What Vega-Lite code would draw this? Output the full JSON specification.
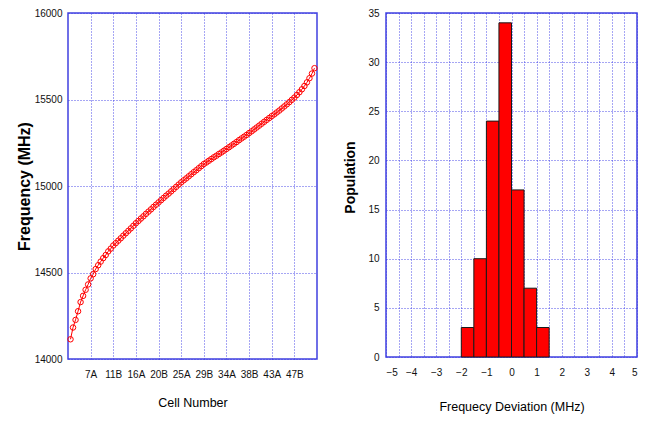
{
  "$schema": "https://vega.github.io/schema/vega-lite/v6.json",
  "background": "white",
  "padding": {"left": 15, "top": 7, "right": 5, "bottom": 5},
  "spacing": 23,
  "datasets": {
    "cells": [
      {"n": 4, "freq": 14114}, {"n": 5, "freq": 14182}, {"n": 6, "freq": 14226}, {"n": 7, "freq": 14276},
      {"n": 8, "freq": 14329}, {"n": 9, "freq": 14365}, {"n": 10, "freq": 14400}, {"n": 11, "freq": 14431},
      {"n": 12, "freq": 14466}, {"n": 13, "freq": 14490}, {"n": 14, "freq": 14520}, {"n": 15, "freq": 14542},
      {"n": 16, "freq": 14563}, {"n": 17, "freq": 14583}, {"n": 18, "freq": 14601}, {"n": 19, "freq": 14622},
      {"n": 20, "freq": 14638}, {"n": 21, "freq": 14656}, {"n": 22, "freq": 14670}, {"n": 23, "freq": 14684},
      {"n": 24, "freq": 14698}, {"n": 25, "freq": 14713}, {"n": 26, "freq": 14727}, {"n": 27, "freq": 14741},
      {"n": 28, "freq": 14755}, {"n": 29, "freq": 14770}, {"n": 30, "freq": 14785}, {"n": 31, "freq": 14798},
      {"n": 32, "freq": 14812}, {"n": 33, "freq": 14825}, {"n": 34, "freq": 14839}, {"n": 35, "freq": 14852},
      {"n": 36, "freq": 14865}, {"n": 37, "freq": 14879}, {"n": 38, "freq": 14892}, {"n": 39, "freq": 14905},
      {"n": 40, "freq": 14918}, {"n": 41, "freq": 14931}, {"n": 42, "freq": 14944}, {"n": 43, "freq": 14956},
      {"n": 44, "freq": 14969}, {"n": 45, "freq": 14982}, {"n": 46, "freq": 14995}, {"n": 47, "freq": 15008},
      {"n": 48, "freq": 15021}, {"n": 49, "freq": 15033}, {"n": 50, "freq": 15044}, {"n": 51, "freq": 15056},
      {"n": 52, "freq": 15068}, {"n": 53, "freq": 15080}, {"n": 54, "freq": 15091}, {"n": 55, "freq": 15103},
      {"n": 56, "freq": 15115}, {"n": 57, "freq": 15127}, {"n": 58, "freq": 15136}, {"n": 59, "freq": 15146},
      {"n": 60, "freq": 15156}, {"n": 61, "freq": 15166}, {"n": 62, "freq": 15175}, {"n": 63, "freq": 15185},
      {"n": 64, "freq": 15194}, {"n": 65, "freq": 15204}, {"n": 66, "freq": 15214}, {"n": 67, "freq": 15224},
      {"n": 68, "freq": 15234}, {"n": 69, "freq": 15244}, {"n": 70, "freq": 15254}, {"n": 71, "freq": 15265},
      {"n": 72, "freq": 15275}, {"n": 73, "freq": 15285}, {"n": 74, "freq": 15295}, {"n": 75, "freq": 15306},
      {"n": 76, "freq": 15316}, {"n": 77, "freq": 15327}, {"n": 78, "freq": 15338}, {"n": 79, "freq": 15349},
      {"n": 80, "freq": 15360}, {"n": 81, "freq": 15371}, {"n": 82, "freq": 15382}, {"n": 83, "freq": 15393},
      {"n": 84, "freq": 15404}, {"n": 85, "freq": 15414}, {"n": 86, "freq": 15425}, {"n": 87, "freq": 15436},
      {"n": 88, "freq": 15448}, {"n": 89, "freq": 15460}, {"n": 90, "freq": 15472}, {"n": 91, "freq": 15485},
      {"n": 92, "freq": 15498}, {"n": 93, "freq": 15511}, {"n": 94, "freq": 15526}, {"n": 95, "freq": 15542},
      {"n": 96, "freq": 15559}, {"n": 97, "freq": 15578}, {"n": 98, "freq": 15599}, {"n": 99, "freq": 15623},
      {"n": 100, "freq": 15650}, {"n": 101, "freq": 15681}
    ],
    "hist": [
      {"lo": -2.0, "hi": -1.5, "count": 3},
      {"lo": -1.5, "hi": -1.0, "count": 10},
      {"lo": -1.0, "hi": -0.5, "count": 24},
      {"lo": -0.5, "hi": 0.0, "count": 34},
      {"lo": 0.0, "hi": 0.5, "count": 17},
      {"lo": 0.5, "hi": 1.0, "count": 7},
      {"lo": 1.0, "hi": 1.5, "count": 3}
    ]
  },
  "config": {
    "view": {"stroke": "#4040e0", "strokeWidth": 1.5},
    "axis": {
      "labelFont": "Liberation Sans",
      "labelFontSize": 10,
      "labelColor": "#111",
      "titleFont": "Liberation Sans",
      "titleFontSize": 12.5,
      "titleFontWeight": "normal",
      "titleColor": "#000",
      "ticks": false,
      "domain": false,
      "gridColor": "#3a3ae8",
      "gridDash": [1, 2],
      "gridWidth": 1,
      "gridOpacity": 0.9
    }
  },
  "hconcat": [
    {
      "width": 249,
      "height": 346,
      "data": {"name": "cells"},
      "mark": {
        "type": "line",
        "color": "#ff0000",
        "strokeWidth": 1,
        "point": {"filled": false, "size": 30, "stroke": "#ff0000", "strokeWidth": 1}
      },
      "encoding": {
        "x": {
          "field": "n", "type": "quantitative",
          "scale": {"domain": [3, 102], "nice": false, "zero": false},
          "axis": {
            "title": "Cell Number",
            "values": [12, 21, 30, 39, 48, 57, 66, 75, 84, 93],
            "labelExpr": "(floor(datum.value / 2) + 1) + (datum.value % 2 == 0 ? 'A' : 'B')",
            "labelPadding": 10,
            "titlePadding": 17
          }
        },
        "y": {
          "field": "freq", "type": "quantitative",
          "scale": {"domain": [14000, 16000], "nice": false, "zero": false},
          "axis": {
            "title": "Frequency (MHz)",
            "values": [14000, 14500, 15000, 15500, 16000],
            "format": "d",
            "labelPadding": 6,
            "titlePadding": 2,
            "titleFontWeight": "bold",
            "titleFontSize": 16
          }
        }
      }
    },
    {
      "width": 251,
      "height": 344,
      "data": {"name": "hist"},
      "mark": {"type": "bar", "color": "#ff0000", "stroke": "#1a1a1a", "strokeWidth": 1},
      "encoding": {
        "x": {
          "field": "lo", "type": "quantitative",
          "scale": {"domain": [-5, 5], "nice": false, "zero": false},
          "axis": {
            "title": "Frequecy Deviation (MHz)",
            "values": [-5, -4.5, -4, -3.5, -3, -2.5, -2, -1.5, -1, -0.5, 0, 0.5, 1, 1.5, 2, 2.5, 3, 3.5, 4, 4.5, 5],
            "labelExpr": "datum.value % 1 == 0 ? format(datum.value, 'd') : ''",
            "labelPadding": 10,
            "titlePadding": 23
          }
        },
        "x2": {"field": "hi"},
        "y": {
          "field": "count", "type": "quantitative",
          "scale": {"domain": [0, 35], "nice": false},
          "axis": {
            "title": "Population",
            "values": [0, 5, 10, 15, 20, 25, 30, 35],
            "labelPadding": 7,
            "titlePadding": 10,
            "titleY": 164,
            "titleFontWeight": "bold",
            "titleFontSize": 14
          }
        },
        "y2": {"datum": 0}
      }
    }
  ]
}
